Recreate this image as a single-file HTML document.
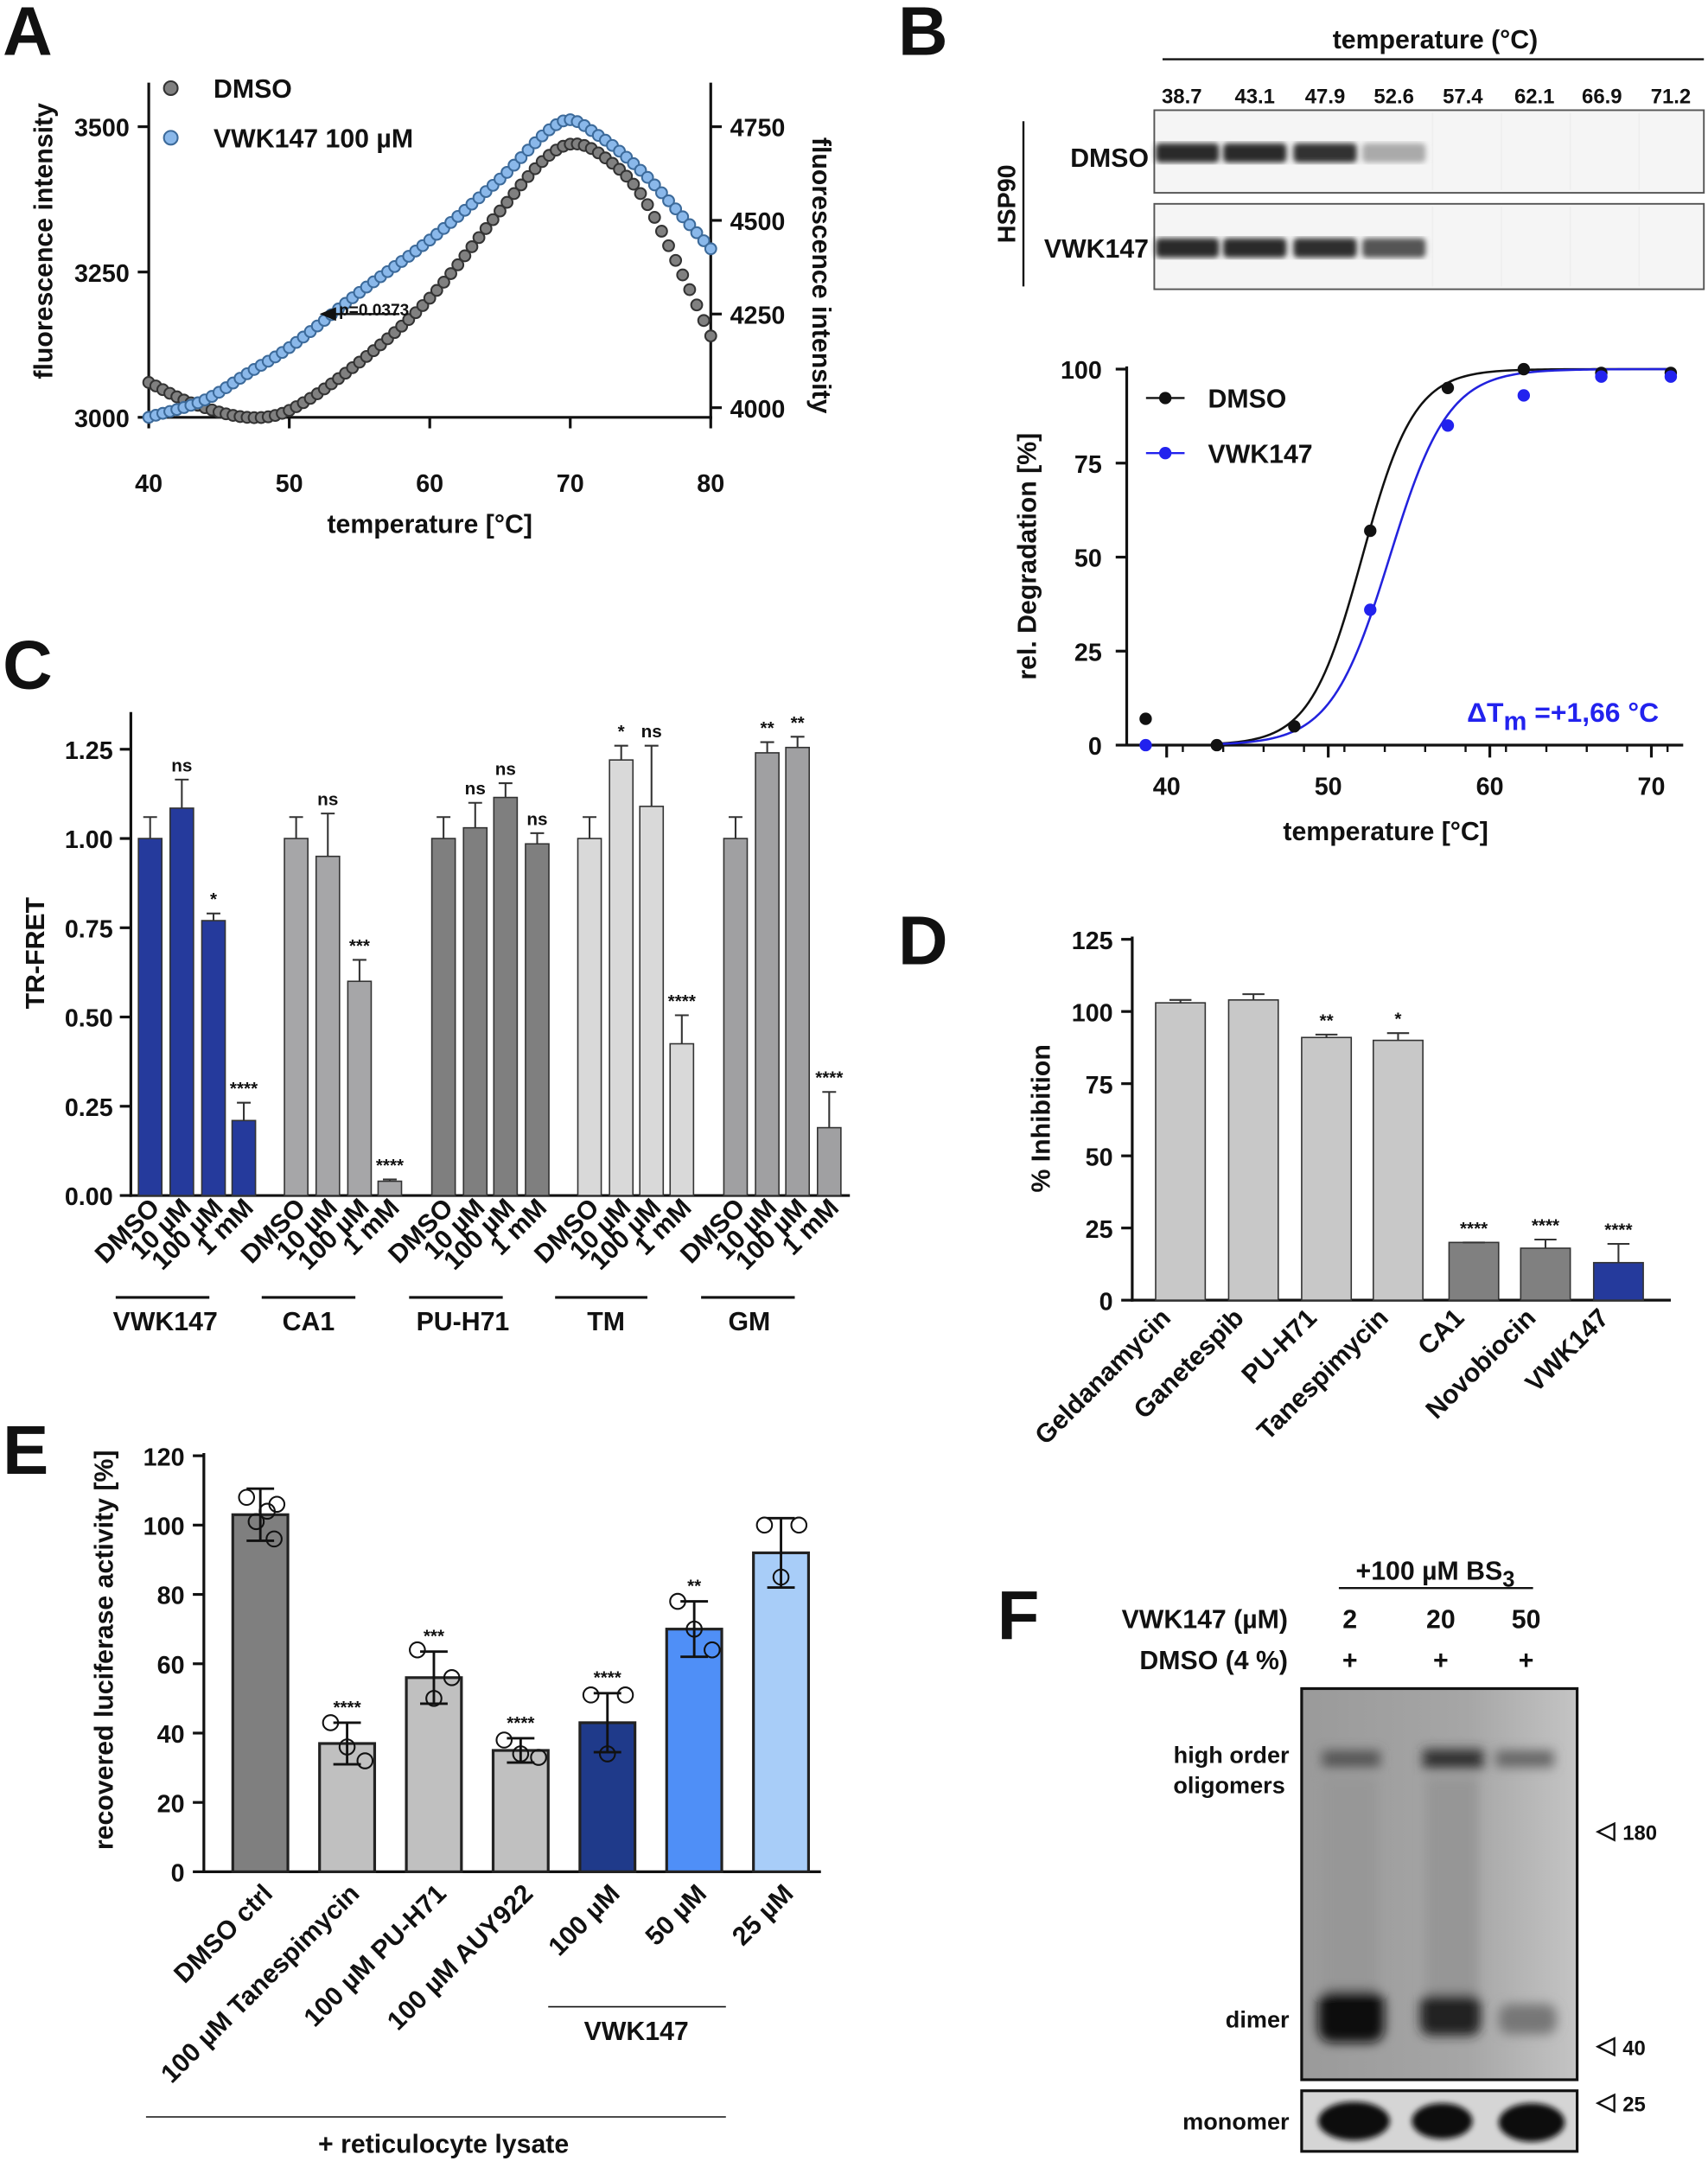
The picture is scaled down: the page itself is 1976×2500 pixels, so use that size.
<!DOCTYPE html>
<html><head><meta charset="utf-8"><style>
html,body{margin:0;padding:0;background:#fff}
svg{display:block}
text{font-family:"Liberation Sans",Arial,sans-serif;font-weight:bold;fill:#111}
</style></head><body>
<svg id="s" width="1976" height="2500" viewBox="0 0 1240 1569" preserveAspectRatio="none" xmlns="http://www.w3.org/2000/svg">
<defs>
<filter id="blur4"><feGaussianBlur stdDeviation="4"/></filter>
<filter id="blur2"><feGaussianBlur stdDeviation="2"/></filter>
<linearGradient id="gelbg" x1="0" x2="1"><stop offset="0" stop-color="#9a9a9a"/><stop offset="0.6" stop-color="#a6a6a6"/><stop offset="1" stop-color="#c4c4c4"/></linearGradient>
</defs>
<g id="g"></g>
</svg>
<script>
const g=document.getElementById('g');let h='';
function T(x,y,s,t,o){o=o||{};h+=`<text x="${x}" y="${y}" font-size="${s}" text-anchor="${o.a||'start'}" ${o.r!==undefined?`transform="rotate(${o.r} ${x} ${y})"`:''} ${o.f?`style="fill:${o.f}"`:''} ${o.w?`font-weight="${o.w}"`:''}>${t}</text>`;}
function L(x1,y1,x2,y2,c,w){h+=`<line x1="${x1}" y1="${y1}" x2="${x2}" y2="${y2}" stroke="${c||'#111'}" stroke-width="${w||2}"/>`;}
function R(x,y,w,hh,f,s,sw){h+=`<rect x="${x}" y="${y}" width="${w}" height="${hh}" fill="${f}" ${s?`stroke="${s}" stroke-width="${sw||1.5}"`:''}/>`;}
function C(x,y,r,f,s){h+=`<circle cx="${x}" cy="${y}" r="${r}" fill="${f}" ${s?`stroke="${s}" stroke-width="1.3"`:''}/>`;}
function interp(P,t){for(let i=0;i<P.length-1;i++){const[a,v1]=P[i],[b,v2]=P[i+1];if(t>=a&&t<=b){const v0=i>0?P[i-1][1]:v1-(v2-v1),v3=i<P.length-2?P[i+2][1]:v2+(v2-v1);const a0=i>0?P[i-1][0]:a-(b-a),b3=i<P.length-2?P[i+2][0]:b+(b-a);const m1=(v2-v0)/(b-a0)*(b-a),m2=(v3-v1)/(b3-a)*(b-a);const u=(t-a)/(b-a),u2=u*u,u3=u2*u;return (2*u3-3*u2+1)*v1+(u3-2*u2+u)*m1+(-2*u3+3*u2)*v2+(u3-u2)*m2;}}return P[P.length-1][1];}
T(2,40,50,'A');T(652,40,50,'B');T(2,500,50,'C');T(652,700,50,'D');T(2,1070,50,'E');T(724,1190,50,'F');
// ===== A =====
const ax=t=>108+(t-40)*10.2, ay=v=>303-(v-3000)*105.5/250;
L(108,60,108,304);L(107,303,517,303);L(516,60,516,304);
[[3000,'3000'],[3250,'3250'],[3500,'3500']].forEach(([v,s])=>{L(100,ay(v),108,ay(v));T(94,ay(v)+7,18,s,{a:'end'});});
[[296,'4000'],[228,'4250'],[160,'4500'],[92,'4750']].forEach(([y,s])=>{L(516,y,524,y);T(530,y+7,18,s);});
[40,50,60,70,80].forEach(t=>{L(ax(t),303,ax(t),311);T(ax(t),357,18,t,{a:'middle'});});
T(312,387,19,'temperature [°C]',{a:'middle'});
T(38,175,19,'fluorescence intensity',{a:'middle',r:-90});
T(590,200,19,'fluorescence intensity',{a:'middle',r:90});
const gp=[[40,3060],[43,3025],[47,3000],[50,3012],[55,3095],[60,3205],[65,3355],[68,3440],[70,3470],[72,3455],[75,3385],[78,3245],[80,3140]];
const bp=[[40,3000],[44,3030],[47,3075],[50,3120],[55,3215],[60,3305],[65,3410],[69.5,3510],[72,3485],[75,3425],[78,3345],[80,3290]];
for(let t=40;t<=80.01;t+=0.5) C(ax(t),ay(interp(gp,t)),4,'#808080','#333');
for(let t=40;t<=80.01;t+=0.5) C(ax(t),ay(interp(bp,t)),4,'#8ab8ea','#3c6a9a');
L(290,228,240,228,'#111',1.5);h+=`<polygon points="232,228 244,223 244,233" fill="#111"/>`;
T(246,229,12,'p=0.0373',{w:'normal'});
C(124,64,5,'#808080','#333');T(155,71,19,'DMSO');
C(124,100,5,'#8ab8ea','#3c6a9a');T(155,107,19,'VWK147 100 µM');
// ===== B gel =====
T(1042,35,19,'temperature (°C)',{a:'middle'});L(844,43,1237,43,'#111',1.5);
const bx=[858,911,962,1012,1062,1114,1163,1213];
['38.7','43.1','47.9','52.6','57.4','62.1','66.9','71.2'].forEach((s,i)=>T(bx[i],75,15,s,{a:'middle'}));
R(838,80,399,60,'#f5f5f5','#555',1.2);R(838,148,399,62,'#f5f5f5','#555',1.2);
[[862,'#2a2a2a'],[911,'#2a2a2a'],[962,'#333'],[1012,'#aaa']].forEach(([x,c])=>{h+=`<rect x="${x-23}" y="104" width="46" height="14" rx="3" fill="${c}" filter="url(#blur2)"/>`;});
[[862,'#2a2a2a'],[911,'#2a2a2a'],[962,'#2e2e2e'],[1012,'#555']].forEach(([x,c])=>{h+=`<rect x="${x-23}" y="173" width="46" height="14" rx="3" fill="${c}" filter="url(#blur2)"/>`;});
[1040,1090,1140,1190].forEach(x=>{L(x,82,x,138,'#eee',1);L(x,150,x,208,'#eee',1);});
T(834,121,19,'DMSO',{a:'end'});T(834,187,19,'VWK147',{a:'end'});
L(743,88,743,208,'#111',1.5);T(737,148,18,'HSP90',{a:'middle',r:-90});
// ===== B curve =====
const bxx=t=>847+(t-40)*11.73, byy=v=>541-v*2.73;
L(818,266,818,541);L(818,541,1222,541);
[0,25,50,75,100].forEach(v=>{L(810,byy(v),818,byy(v));T(800,byy(v)+7,18,v,{a:'end'});});
[40,50,60,70].forEach(t=>{L(bxx(t),541,bxx(t),550);T(bxx(t),577,18,t,{a:'middle'});});
for(let t=41;t<72;t+=2.5) L(bxx(t),541,bxx(t),546,'#111',1.5);
T(1006,610,19,'temperature [°C]',{a:'middle'});
T(752,404,19,'rel. Degradation [%]',{a:'middle',r:-90});
let p1='',p2='';for(let t=43;t<=71.3;t+=0.2){p1+=`${bxx(t)},${byy(100/(1+Math.exp(-(t-52.1)*0.62)))} `;p2+=`${bxx(t)},${byy(100/(1+Math.exp(-(t-53.8)*0.55)))} `;}
h+=`<polyline points="${p1}" fill="none" stroke="#111" stroke-width="1.6"/><polyline points="${p2}" fill="none" stroke="#2222dd" stroke-width="1.6"/>`;
[[38.7,7],[43.1,0],[47.9,5],[52.6,57],[57.4,95],[62.1,100],[66.9,99],[71.2,99]].forEach(([t,v])=>C(bxx(t),byy(v),4.5,'#111'));
[[38.7,0],[52.6,36],[57.4,85],[62.1,93],[66.9,98],[71.2,98]].forEach(([t,v])=>C(bxx(t),byy(v),4.5,'#2222ee'));
L(832,289,860,289,'#111',1.5);C(846,289,4.5,'#111');T(877,296,19,'DMSO');
L(832,329,860,329,'#2222ee',1.5);C(846,329,4.5,'#2222ee');T(877,336,19,'VWK147');
T(1065,524,20,'ΔT<tspan dy="6" font-size="19">m</tspan><tspan dy="-6"> =+1,66 °C</tspan>',{f:'#2222ee'});
// ===== C =====
const cy=v=>868-v*259.2;
L(95,517,95,869);L(94,868,617,868);
[0,0.25,0.5,0.75,1.0,1.25].forEach(v=>{L(87,cy(v),95,cy(v));T(82,cy(v)+7,18,v.toFixed(2),{a:'end'});});
T(32,692,19,'TR-FRET',{a:'middle',r:-90});
const groups=[
 {n:'VWK147',c:'#253a9c',x:[109,132,155,177],v:[1,1.085,0.77,0.21],e:[.06,.08,.02,.05],s:['','ns','*','****'],lx:120},
 {n:'CA1',c:'#a6a6a8',x:[215,238,261,283],v:[1,0.95,0.6,0.04],e:[.06,.12,.06,.005],s:['','ns','***','****'],lx:224},
 {n:'PU-H71',c:'#7f7f7f',x:[322,345,367,390],v:[1,1.03,1.115,0.985],e:[.06,.07,.04,.03],s:['','ns','ns','ns'],lx:336},
 {n:'TM',c:'#d9d9d9',x:[428,451,473,495],v:[1,1.22,1.09,0.425],e:[.06,.04,.17,.08],s:['','*','ns','****'],lx:440},
 {n:'GM',c:'#a0a0a2',x:[534,557,579,602],v:[1,1.24,1.255,0.19],e:[.06,.03,.03,.1],s:['','**','**','****'],lx:544}];
const cl=['DMSO','10 µM','100 µM','1 mM'];
groups.forEach(G=>{G.x.forEach((x,i)=>{const y=cy(G.v[i]);R(x-8.5,y,17,868-y,G.c,'#333',1);const ye=cy(G.v[i]+G.e[i]);L(x,y,x,ye,'#333',1.3);L(x-5,ye,x+5,ye,'#333',1.3);if(G.s[i])T(x,ye-6,13,G.s[i],{a:'middle',w:'normal'});
 T(x+8,878,19,cl[i],{a:'end',r:-45});});
 L(G.x[0]-25,942,G.x[3]-25,942,'#111',2);T(G.lx,966,19,G.n,{a:'middle'});});
// ===== D =====
const dy=v=>944-v*2.096;
L(822,680,822,945);L(821,944,1213,944);
[0,25,50,75,100,125].forEach(v=>{L(814,dy(v),822,dy(v));T(808,dy(v)+7,18,v,{a:'end'});});
T(762,812,19,'% Inhibition',{a:'middle',r:-90});
[[857,103,1,'#c8c8c8','','Geldanamycin'],[910,104,2,'#c8c8c8','','Ganetespib'],[963,91,1,'#c8c8c8','**','PU-H71'],[1015,90,2.5,'#c8c8c8','*','Tanespimycin'],[1070,20,0,'#808080','****','CA1'],[1122,18,3,'#808080','****','Novobiocin'],[1175,13,6.5,'#253a9c','****','VWK147']].forEach(([x,v,e,c,s,n])=>{const y=dy(v);R(x-18,y,36,944-y,c,'#333',1);const ye=dy(v+e);L(x,y,x,ye,'#333',1.3);L(x-8,ye,x+8,ye,'#333',1.3);if(s)T(x,ye-6,13,s,{a:'middle',w:'normal'});T(x-6,958,19,n,{a:'end',r:-45});});
// ===== E =====
const ey=v=>1359-v*2.517;
L(148,1055,148,1360);L(147,1359,596,1359);
[0,20,40,60,80,100,120].forEach(v=>{L(140,ey(v),148,ey(v));T(134,ey(v)+7,18,v,{a:'end'});});
T(82,1198,19,'recovered luciferase activity [%]',{a:'middle',r:-90});
[[189,103,7.5,'#7f7f7f','',[108,101,96,104,106],'DMSO ctrl'],[252,37,6,'#c0c0c0','****',[43,36,32],'100 µM Tanespimycin'],[315,56,7.5,'#c0c0c0','***',[64,50,56],'100 µM PU-H71'],[378,35,3.5,'#c0c0c0','****',[38,34,33],'100 µM AUY922'],[441,43,8.5,'#1f3a8a','****',[51,34,51],'100 µM'],[504,70,8,'#4f8ff7','**',[78,70,64],'50 µM'],[567,92,10,'#a8cdf8','',[100,85,100],'25 µM']].forEach(([x,v,e,c,s,pts,n])=>{const y=ey(v);R(x-20,y,40,1359-y,c,'#222',2);L(x,ey(v-e),x,ey(v+e),'#111',1.8);L(x-10,ey(v+e),x+10,ey(v+e),'#111',1.8);L(x-10,ey(v-e),x+10,ey(v-e),'#111',1.8);const k=pts.length;pts.forEach((p,i)=>C(x+(k==3?[-12,0,13][i]:[-10,-3,10,5,12][i]),ey(p),5.5,'none','#111'));if(s)T(x,ey(v+e)-7,13,s,{a:'middle',w:'normal'});T(x+10,1376,19,n,{a:'end',r:-45});});
L(398,1457,527,1457,'#111',1);T(462,1481,19,'VWK147',{a:'middle'});
L(106,1537,527,1537,'#111',1);T(322,1563,19,'+ reticulocyte lysate',{a:'middle'});
// ===== F =====
T(1042,1147,19,'+100 µM BS<tspan dy="5" font-size="16">3</tspan>',{a:'middle'});L(972,1153,1113,1153,'#111',1.5);
T(935,1182,19,'VWK147 (µM)',{a:'end'});T(935,1212,19,'DMSO (4 %)',{a:'end'});
[[980,'2'],[1046,'20'],[1108,'50']].forEach(([x,s])=>{T(x,1182,19,s,{a:'middle'});T(x,1212,19,'+',{a:'middle'});});
R(945,1226,200,284,'url(#gelbg)','#111',2);
h+=`<g filter="url(#blur4)">
<rect x="960" y="1271" width="42" height="12" fill="#555"/><rect x="1033" y="1270" width="44" height="14" fill="#333"/><rect x="1086" y="1271" width="42" height="12" fill="#666"/>
<rect x="960" y="1290" width="40" height="160" fill="#979797"/><rect x="1035" y="1290" width="38" height="160" fill="#969696"/>
<rect x="957" y="1445" width="48" height="38" rx="10" fill="#111"/><rect x="1031" y="1448" width="44" height="30" rx="8" fill="#222"/><rect x="1088" y="1455" width="42" height="22" rx="8" fill="#777"/>
</g>`;
R(945,1518,200,44,'#d5d5d5','#111',2);
h+=`<g filter="url(#blur2)"><ellipse cx="983" cy="1540" rx="26" ry="14" fill="#111"/><ellipse cx="1047" cy="1540" rx="22" ry="13" fill="#111"/><ellipse cx="1112" cy="1541" rx="24" ry="14" fill="#111"/></g>`;
T(936,1280,17,'high order',{a:'end'});T(933,1302,17,'oligomers',{a:'end'});
T(936,1472,17,'dimer',{a:'end'});T(936,1546,17,'monomer',{a:'end'});
[[1330,'180'],[1486,'40'],[1527,'25']].forEach(([y,s])=>{h+=`<polygon points="1160,${y} 1172,${y-6} 1172,${y+6}" fill="none" stroke="#111" stroke-width="1.5"/>`;T(1178,y+6,15,s);});
g.innerHTML=h;
</script>
</body></html>
